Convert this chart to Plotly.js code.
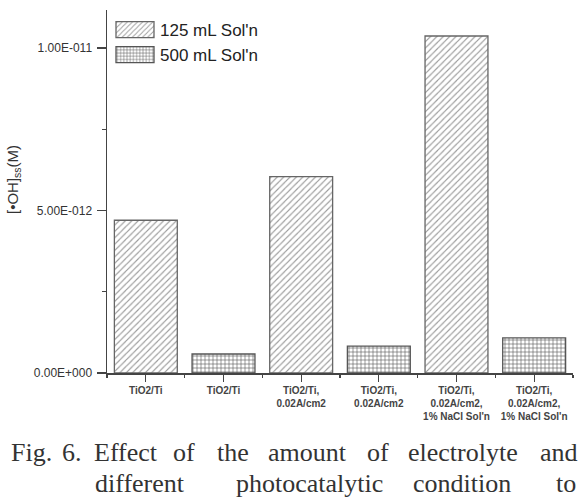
<!DOCTYPE html>
<html>
<head>
<meta charset="utf-8">
<script src="https://cdn.plot.ly/plotly-3.0.1.min.js"></script>
<style>html,body{margin:0;padding:0;background:#fff;}#chart{width:586px;height:497px;}</style>
</head>
<body>
<div id="chart"></div>
<script>
// ---- data ----
const categories = ['TiO2/Ti', 'TiO2/Ti', 'TiO2/Ti,<br>0.02A/cm2', 'TiO2/Ti,<br>0.02A/cm2',
  'TiO2/Ti,<br>0.02A/cm2,<br>1% NaCl Sol\'n', 'TiO2/Ti,<br>0.02A/cm2,<br>1% NaCl Sol\'n'];
const seriesNames = ['125 mL Sol\'n', '500 mL Sol\'n'];
const seriesOfCategory = [0, 1, 0, 1, 0, 1];
const values125 = [4.70e-12, 6.04e-12, 10.37e-12];
const values500 = [0.585e-12, 0.83e-12, 1.08e-12];
const yTickVals = [0, 5e-12, 1e-11];
const yTickText = ['0.00E+000', '5.00E-012', '1.00E-011'];
const yTitle = '[•OH]<sub>ss</sub>(M)';
const captionLine1 = ['Fig.', '6.', 'Effect', 'of', 'the', 'amount', 'of', 'electrolyte', 'and'];
const captionLine2 = ['different', 'photocatalytic', 'condition', 'to'];

// ---- layout helpers ----
const W = 586, H = 497;
const M = {l: 107, r: 13, t: 10, b: 124};
const pw = W - M.l - M.r, ph = H - M.t - M.b;
const px2x = p => (p - M.l) / pw;
const py2y = p => (H - M.b - p) / ph;

const idx = s => seriesOfCategory.map((g, i) => g === s ? i : -1).filter(i => i >= 0);

const traces = [
  {
    type: 'bar', name: seriesNames[0], x: idx(0), y: values125, width: 0.81,
    marker: {color: '#ffffff', line: {color: '#666', width: 1.3},
      pattern: {shape: '/', fgcolor: '#9a9a9a', bgcolor: '#ffffff', size: 4.5, solidity: 0.25}}
  },
  {
    type: 'bar', name: seriesNames[1], x: idx(1), y: values500, width: 0.81,
    marker: {color: '#ffffff', line: {color: '#555', width: 1.3},
      pattern: {shape: '+', fgcolor: '#5a5a5a', bgcolor: '#ffffff', size: 4, solidity: 0.28}}
  }
];

const line1X = [31.5, 71.5, 126, 183.5, 232.5, 307.5, 377.5, 463, 559];
const line2X = [140, 309, 461.5, 566];
const capFont = {family: 'Liberation Serif, Times New Roman, serif', size: 26, color: '#333'};
const annotations = [];
captionLine1.forEach((w, i) => annotations.push({text: w, xref: 'paper', yref: 'paper',
  x: px2x(line1X[i]), y: py2y(452), xanchor: 'center', yanchor: 'middle', showarrow: false, font: capFont}));
captionLine2.forEach((w, i) => annotations.push({text: w, xref: 'paper', yref: 'paper',
  x: px2x(line2X[i]), y: py2y(483), xanchor: 'center', yanchor: 'middle', showarrow: false, font: capFont}));
annotations.push({text: yTitle, xref: 'paper', yref: 'paper', x: px2x(14), y: py2y(180),
  xanchor: 'center', yanchor: 'middle', textangle: -90, showarrow: false,
  font: {family: 'Arial, Liberation Sans, sans-serif', size: 15, color: '#333'}});

const layout = {
  width: W, height: H, margin: M, paper_bgcolor: '#fff', plot_bgcolor: '#fff',
  barmode: 'overlay', showlegend: true,
  font: {family: 'Arial, Liberation Sans, sans-serif', color: '#333'},
  xaxis: {
    range: [-0.5, 5.5], tickmode: 'array', tickvals: categories.map((c, i) => i), ticktext: categories,
    showline: true, linecolor: '#444', linewidth: 1.5, showgrid: false, zeroline: false,
    ticks: 'outside', ticklen: 7, tickwidth: 1.3, tickcolor: '#444',
    tickfont: {family: 'Arial, Liberation Sans, sans-serif', size: 10, color: '#444', weight: 'bold'},
    minor: {tick0: 0.5, dtick: 1, ticks: 'outside', ticklen: 3, tickwidth: 1.2, tickcolor: '#444', showgrid: false},
    fixedrange: true
  },
  yaxis: {
    range: [0, 1.117e-11], tickmode: 'array', tickvals: yTickVals, ticktext: yTickText,
    showline: true, linecolor: '#444', linewidth: 1.5, showgrid: false, zeroline: false,
    ticks: 'outside', ticklen: 9, tickwidth: 1.3, tickcolor: '#444', ticklabelstandoff: 2,
    tickfont: {family: 'Arial, Liberation Sans, sans-serif', size: 12, color: '#333'},
    minor: {tickmode: 'linear', tick0: 0, dtick: 2.5e-12, ticks: 'outside', ticklen: 4, tickwidth: 1.2, tickcolor: '#444', showgrid: false},
    fixedrange: true
  },
  legend: {
    x: px2x(110), y: py2y(12), xanchor: 'left', yanchor: 'top', bgcolor: 'rgba(0,0,0,0)',
    itemwidth: 40, tracegroupgap: 0,
    font: {family: 'Arial, Liberation Sans, sans-serif', size: 17, color: '#222'}
  },
  annotations: annotations
};

Plotly.newPlot('chart', traces, layout, {staticPlot: true, displayModeBar: false}).then(gd => {
  gd.querySelectorAll('.legend .legendpoints path').forEach(p => {
    p.setAttribute('d', 'M19,8H-19V-8H19Z');
  });
});
</script>
</body>
</html>
